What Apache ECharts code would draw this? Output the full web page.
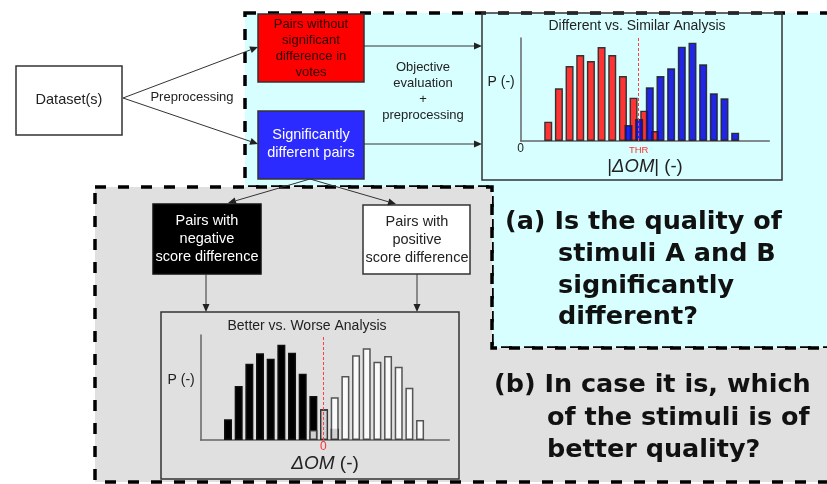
<!DOCTYPE html>
<html><head><meta charset="utf-8">
<script src="https://cdn.jsdelivr.net/npm/echarts@6/dist/echarts.min.js"></script>
<style>html,body{margin:0;padding:0;background:#fff}#c{width:827px;height:484px}</style>
</head><body><div id="c"></div>
<script>
// ---- Data ----
// Different vs. Similar analysis: bin centres (in bin units) and probabilities (arbitrary units)
const diffRedX  = [2.58, 3.58, 4.58, 5.58, 6.58, 7.58, 8.58, 9.58, 10.58, 11.58, 12.58];
const diffRedP  = [19.3, 52.7, 75, 86, 80, 94, 86, 65, 43.3, 30.3, 10];
const diffBlueX = [10.1, 11.1, 12.1, 13.1, 14.1, 15.1, 16.1, 17.1, 18.1, 19.1, 20.1];
const diffBlueP = [16, 22, 53.7, 65, 72.7, 94.3, 98.3, 76.7, 47.7, 42.7, 8.3];
const thrValue = 11.06;
// Better vs. Worse analysis
const betterBlackX = [2.56, 3.56, 4.56, 5.56, 6.56, 7.56, 8.56, 9.56, 10.56, 11.56, 12.56];
const betterBlackP = [20.7, 54, 76.3, 86.7, 81.3, 95.3, 87.3, 66.3, 44, 30.7, 11.3];
const betterWhiteX = [10.56, 11.56, 12.56, 13.56, 14.56, 15.56, 16.56, 17.56, 18.56, 19.56, 20.56];
const betterWhiteP = [10, 30.5, 42.7, 64, 84.7, 91.7, 78.3, 84, 73.3, 52.3, 20];
const zeroValue = 11.5;

const SANS = '"Liberation Sans", Arial, sans-serif';
const BOLD = '"DejaVu Sans", sans-serif';
const zip = (xs, ys) => xs.map((x, i) => [x, ys[i]]);

function arrow(x1, y1, x2, y2) {
  const a = Math.atan2(y2 - y1, x2 - x1), L = 8, w = 3.5;
  const bx = x2 - L * Math.cos(a), by = y2 - L * Math.sin(a);
  return [
    {type: 'line', z: 5, shape: {x1, y1, x2: bx, y2: by}, style: {stroke: '#333', lineWidth: 1}},
    {type: 'polygon', z: 5, shape: {points: [[x2, y2], [bx - w * Math.sin(a), by + w * Math.cos(a)], [bx + w * Math.sin(a), by - w * Math.cos(a)]]}, style: {fill: '#222'}}
  ];
}
function txt(x, y, text, size, color, opts) {
  opts = opts || {};
  return {type: 'text', z: 6, x: x, y: y, style: Object.assign({
    text: text, fill: color, font: (opts.weight || 'normal') + ' ' + size + 'px ' + (opts.family || SANS),
    align: opts.align || 'center', verticalAlign: 'middle', textAlign: opts.align || 'center', textVerticalAlign: 'middle',
    lineHeight: opts.lh || size * 1.2
  }, opts.style || {})};
}
function box(x, y, w, h, fill, stroke, lw) {
  return {type: 'rect', z: 3, shape: {x, y, width: w, height: h}, style: {fill: fill, stroke: stroke || '#333', lineWidth: lw || 1.5}};
}
const dashStyle = {stroke: '#000', lineWidth: 3.5, lineDash: [11, 12]};

const graphic = [
  {type: 'polygon', z: -20, shape: {points: [[245, 13], [832, 13], [832, 348], [492, 348], [492, 187], [245, 187]]}, style: Object.assign({fill: '#d7ffff'}, dashStyle)},
  {type: 'polygon', z: -19, shape: {points: [[95, 187], [492, 187], [492, 348], [832, 348], [832, 482], [95, 482]]}, style: Object.assign({fill: '#e0e0e0'}, dashStyle)},
  box(16, 66, 106, 69, '#fff'),
  txt(69, 100, 'Dataset(s)', 14.5, '#222'),
  txt(192, 97, 'Preprocessing', 13, '#222'),
  box(258, 14, 106, 68, '#ff0000'),
  txt(311, 48, 'Pairs without\nsignificant\ndifference in\nvotes', 13, '#2a0000', {lh: 16}),
  box(258, 111, 106, 68, '#2b2bff'),
  txt(311, 144, 'Significantly\ndifferent pairs', 14.5, '#fff', {lh: 18}),
  txt(423, 91, 'Objective\nevaluation\n+\npreprocessing', 13, '#222', {lh: 16}),
  box(153, 204, 108, 70, '#000', '#111'),
  txt(207, 239, 'Pairs with\nnegative\nscore difference', 14.5, '#fff', {lh: 18}),
  box(363, 205, 107, 69, '#fff'),
  txt(417, 240, 'Pairs with\npositive\nscore difference', 14.5, '#222', {lh: 18}),
  {type: 'rect', z: -5, shape: {x: 482, y: 13, width: 300, height: 167}, style: {fill: 'none', stroke: '#333', lineWidth: 1.5}},
  {type: 'rect', z: -5, shape: {x: 161, y: 312, width: 298, height: 167}, style: {fill: 'none', stroke: '#333', lineWidth: 1.5}},
  txt(637, 26, 'Different vs. Similar Analysis', 14, '#222'),
  txt(307, 326, 'Better vs. Worse Analysis', 14, '#222'),
  txt(505, 222, '(a) Is the quality of', 25.5, '#111', {weight: 'bold', family: BOLD, align: 'left'}),
  txt(558, 254, 'stimuli A and B', 25.5, '#111', {weight: 'bold', family: BOLD, align: 'left'}),
  txt(558, 286, 'significantly', 25.5, '#111', {weight: 'bold', family: BOLD, align: 'left'}),
  txt(558, 317, 'different?', 25.5, '#111', {weight: 'bold', family: BOLD, align: 'left'}),
  txt(494, 385, '(b) In case it is, which', 25.5, '#111', {weight: 'bold', family: BOLD, align: 'left'}),
  txt(547, 418, 'of the stimuli is of', 25.5, '#111', {weight: 'bold', family: BOLD, align: 'left'}),
  txt(547, 450, 'better quality?', 25.5, '#111', {weight: 'bold', family: BOLD, align: 'left'})
].concat(
  arrow(123, 98, 258, 47),
  arrow(123, 98, 258, 144),
  arrow(364, 46, 482, 46),
  arrow(364, 144, 482, 144),
  arrow(310, 179, 228, 203),
  arrow(310, 179, 396, 204),
  arrow(206, 274, 206, 312),
  arrow(417, 274, 417, 312)
);

const axisLine = {show: true, lineStyle: {color: '#666', width: 1.5}};
function xAx(grid, name, gap, size) {
  return {type: 'value', gridIndex: grid, min: 0, max: 23.3, splitLine: {show: false}, axisTick: {show: false},
    axisLine: axisLine,
    axisLabel: {show: grid === 0, margin: 2, color: '#222', fontSize: 12, fontFamily: SANS, formatter: v => v === 0 ? '0' : ''},
    name: name, nameLocation: 'middle', nameGap: gap,
    nameTextStyle: {fontSize: size, color: '#222', fontFamily: SANS, rich: {i: {fontSize: size, fontStyle: 'italic', color: '#222', fontFamily: SANS}}}};
}
function yAx(grid, max) {
  return {type: 'value', gridIndex: grid, min: 0, max: max, splitLine: {show: false}, axisTick: {show: false},
    axisLabel: {show: false}, axisLine: axisLine,
    name: 'P (-)', nameLocation: 'middle', nameRotate: 0, nameGap: 6,
    nameTextStyle: {fontSize: 14, color: '#222', fontFamily: SANS, align: 'right', verticalAlign: 'bottom', lineHeight: 14}};
}
function mark(value, label, size, dist) {
  return {symbol: 'none', silent: true, animation: false,
    lineStyle: {type: [3, 2], color: '#ff4040', width: 1},
    label: {show: true, position: 'start', formatter: label, color: '#ff3030', fontSize: size, fontFamily: SANS, distance: dist},
    data: [{xAxis: value}]};
}
const barBase = {type: 'bar', barWidth: 8, barGap: '-100%', clip: false, animation: false};

const option = {
  backgroundColor: '#fff',
  animation: false,
  graphic: graphic,
  grid: [
    {left: 520.7, top: 38, width: 248.6, height: 103},
    {left: 200.7, top: 335, width: 248.6, height: 105}
  ],
  xAxis: [xAx(0, '|{i|ΔOM}| (-)', 16, 18.5), xAx(1, '{i|ΔOM} (-)', 14, 19)],
  yAxis: [yAx(0, 103), yAx(1, 105)],
  series: [
    Object.assign({}, barBase, {name: 'similar', xAxisIndex: 0, yAxisIndex: 0, data: zip(diffRedX, diffRedP),
      itemStyle: {color: '#ff3333', borderColor: '#333', borderWidth: 1.4}, markLine: mark(thrValue, 'THR', 9.5, 4)}),
    Object.assign({}, barBase, {name: 'different', xAxisIndex: 0, yAxisIndex: 0, data: zip(diffBlueX, diffBlueP),
      itemStyle: {color: '#0808e0', borderColor: '#222', borderWidth: 1.4, opacity: 0.88}}),
    Object.assign({}, barBase, {name: 'worse', xAxisIndex: 1, yAxisIndex: 1, data: zip(betterBlackX, betterBlackP),
      itemStyle: {color: '#000', borderColor: '#111', borderWidth: 1.4}, markLine: mark(zeroValue, '0', 12, 1)}),
    Object.assign({}, barBase, {name: 'better', xAxisIndex: 1, yAxisIndex: 1, data: zip(betterWhiteX, betterWhiteP),
      itemStyle: {color: '#fff', borderColor: '#333', borderWidth: 1.5, opacity: 0.82}})
  ]
};
const chart = echarts.init(document.getElementById('c'), null, {renderer: 'canvas'});
chart.setOption(option);
</script></body></html>
